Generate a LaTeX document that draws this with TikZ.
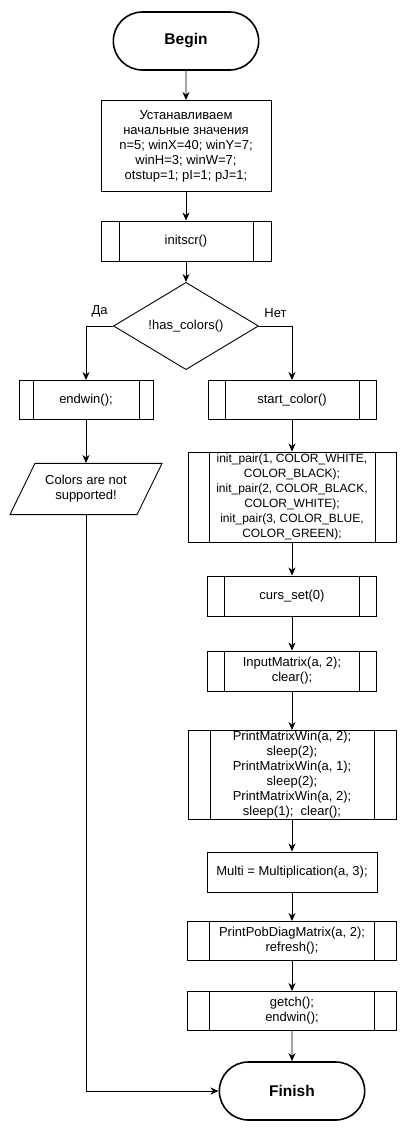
\documentclass[tikz,border=0pt]{standalone}
\usepackage{fontspec}
\setmainfont{Liberation Sans}
\usetikzlibrary{arrows.meta,positioning,shapes.misc,shapes.geometric}

\begin{document}
\begin{tikzpicture}[x=1pt,y=-1pt,>={Stealth[length=8pt,width=7pt,inset=2.5pt]},line width=0.9pt,auto,node distance=95pt,
  every node/.style={font=\fontsize{13}{15}\selectfont,align=center},
  term/.style={rounded rectangle,draw,line width=1.6pt,minimum width=152pt,minimum height=58pt,
    font=\fontsize{15.5}{18}\selectfont\bfseries},
  proc/.style={rectangle,draw,inner sep=0pt,minimum height=40pt},
  sub/.style={proc,path picture={
    \draw ([xshift=#1]path picture bounding box.north west) -- ([xshift=#1]path picture bounding box.south west);
    \draw ([xshift=-#1]path picture bounding box.north east) -- ([xshift=-#1]path picture bounding box.south east);}},
  sub/.default=18pt,
  cond/.style={diamond,draw,inner sep=0pt,minimum width=145pt,minimum height=69pt},
  io/.style={trapezium,draw,trapezium left angle=64,trapezium right angle=116,trapezium stretches body,
    inner xsep=4pt,inner ysep=12pt,minimum width=152pt}]
  \useasboundingbox (0,0) rectangle (407,1132);

  \node[term] (begin) at (186,41) {Begin};
  \node[proc,minimum width=170pt,minimum height=91pt] (setup) [below of=begin,node distance=105pt]
    {Устанавливаем\\начальные значения\\n=5; winX=40; winY=7;\\winH=3; winW=7;\\otstup=1; pI=1; pJ=1;};
  \node[sub,minimum width=170pt] (initscr) [below of=setup] {initscr()};
  \node[cond] (hascol) [below of=initscr,node distance=85pt] {!has\_colors()};

  \node[sub=14pt,minimum width=134pt,minimum height=39pt] (endwinA) [below of=hascol,node distance=74pt,xshift=-100pt] {endwin();};
  \node[io] (nocol) [below of=endwinA,node distance=89pt] {Colors are not\\supported!};

  \node[sub=17pt,minimum width=168pt,minimum height=39pt] (startcol) [below of=hascol,node distance=74pt,xshift=106pt] {start\_color()};
  \node[sub=21pt,minimum width=208pt,minimum height=90pt,font=\fontsize{12}{15}\selectfont] (pairs) [below of=startcol,node distance=97pt]
    {init\_pair(1, COLOR\_WHITE,\\COLOR\_BLACK);\\init\_pair(2, COLOR\_BLACK,\\COLOR\_WHITE);\\init\_pair(3, COLOR\_BLUE,\\COLOR\_GREEN);};
  \node[sub=17pt,minimum width=169pt] (curs) [below of=pairs,node distance=99pt] {curs\_set(0)};
  \node[sub=17pt,minimum width=169pt] (input) [below of=curs,node distance=75pt] {InputMatrix(a, 2);\\clear();};
  \node[sub=22pt,minimum width=208pt,minimum height=89pt] (printw) [below of=input,node distance=104pt]
    {PrintMatrixWin(a, 2);\\sleep(2);\\PrintMatrixWin(a, 1);\\sleep(2);\\PrintMatrixWin(a, 2);\\sleep(1);~~clear();};
  \node[proc,minimum width=170pt] (multi) [below of=printw,node distance=97pt] {Multi = Multiplication(a, 3);};
  \node[sub=22pt,minimum width=209pt,minimum height=39pt] (pobdiag) [below of=multi,node distance=69pt] {PrintPobDiagMatrix(a, 2);\\refresh();};
  \node[sub=22pt,minimum width=209pt,minimum height=39pt] (getch) [below of=pobdiag,node distance=70pt] {getch();\\endwin();};
  \node[term] (finish) [below of=getch,node distance=80pt] {Finish};

  \path[->] (begin) edge (setup)
        (setup) edge (initscr)
        (initscr) edge (hascol)
        (endwinA) edge (nocol)
        (startcol) edge (pairs)
        (pairs) edge (curs)
        (curs) edge (input)
        (input) edge (printw)
        (printw) edge (multi)
        (multi) edge (pobdiag)
        (pobdiag) edge (getch)
        (getch) edge (finish);
  \draw[->] (hascol.west) -| node[pos=0.25,above=5pt] {Да} (endwinA);
  \draw[->] (hascol.east) -| node[pos=0.25,above=5pt] {Нет} (startcol);
  \draw[->] (nocol) |- (finish);
\end{tikzpicture}
\end{document}
